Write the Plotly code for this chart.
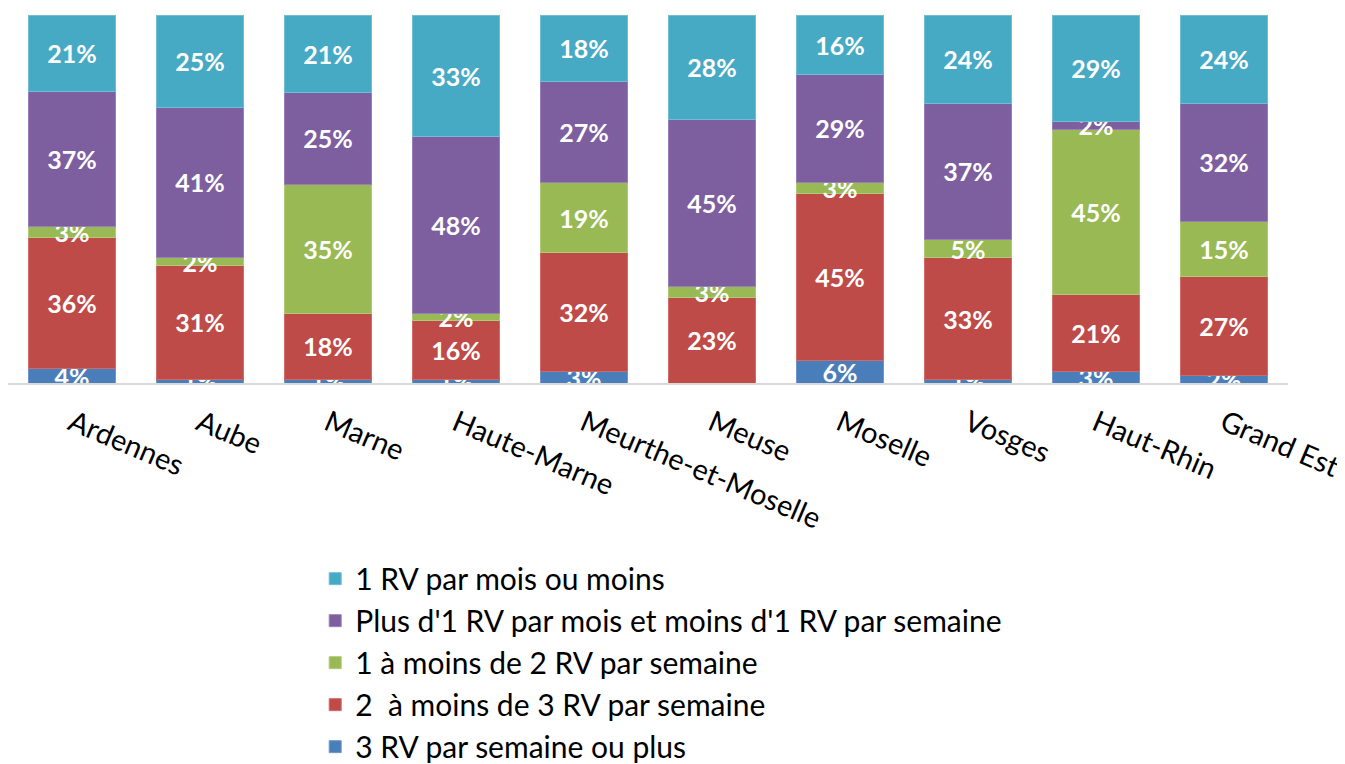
import plotly.graph_objects as go

categories = ["Ardennes", "Aube", "Marne", "Haute-Marne", "Meurthe-et-Moselle",
              "Meuse", "Moselle", "Vosges", "Haut-Rhin", "Grand Est"]

s_3plus = [4, 1, 1, 1, 3, 0, 6, 1, 3, 2]
s_2to3 = [36, 31, 18, 16, 32, 23, 45, 33, 21, 27]
s_1to2 = [3, 2, 35, 2, 19, 3, 3, 5, 45, 15]
s_month_week = [37, 41, 25, 48, 27, 45, 29, 37, 2, 32]
s_month_less = [21, 25, 21, 33, 18, 28, 16, 24, 29, 24]

series = [
    ("3 RV par semaine ou plus", s_3plus, "#4A7EBB", "#6F97CC"),
    ("2  à moins de 3 RV par semaine", s_2to3, "#BE4B48", "#D06A67"),
    ("1 à moins de 2 RV par semaine", s_1to2, "#98B954", "#AFCB78"),
    ("Plus d'1 RV par mois et moins d'1 RV par semaine", s_month_week, "#7D5FA0", "#9A80BA"),
    ("1 RV par mois ou moins", s_month_less, "#46AAC5", "#6EBFD5"),
]

FONT = "Lato"

fig = go.Figure()
for name, vals, col, edge in series:
    fig.add_trace(go.Bar(
        x=categories, y=vals, name=name,
        marker=dict(color=col, line=dict(color=edge, width=1)),
        text=[f"{v}%" if v > 0 else "" for v in vals],
        textposition="inside", insidetextanchor="middle",
        constraintext="none",
        textfont=dict(family=FONT, size=25, color="white", weight="bold"),
        cliponaxis=True,
        hoverinfo="skip",
    ))

fig.update_layout(
    barmode="stack", barnorm="percent", bargap=0.32,
    width=1337, height=772,
    margin=dict(l=0, r=57, t=7, b=397),
    plot_bgcolor="white", paper_bgcolor="white",
    font=dict(family=FONT, size=29, color="#000000"),
    showlegend=True,
    legend=dict(
        x=0.24, y=-0.461, xanchor="left", yanchor="top",
        traceorder="reversed", orientation="v",
        font=dict(family=FONT, size=30, color="#000000"),
        bgcolor="rgba(0,0,0,0)",
    ),
)
fig.update_xaxes(
    tickangle=23, showline=True, linecolor="#D9D9D9", linewidth=2,
    ticks="", showgrid=False, ticklabelstandoff=10,
    tickfont=dict(family=FONT, size=29, color="#000000"),
)
fig.update_yaxes(range=[0, 100], visible=False, showgrid=False)

fig.write_html("out.html")
